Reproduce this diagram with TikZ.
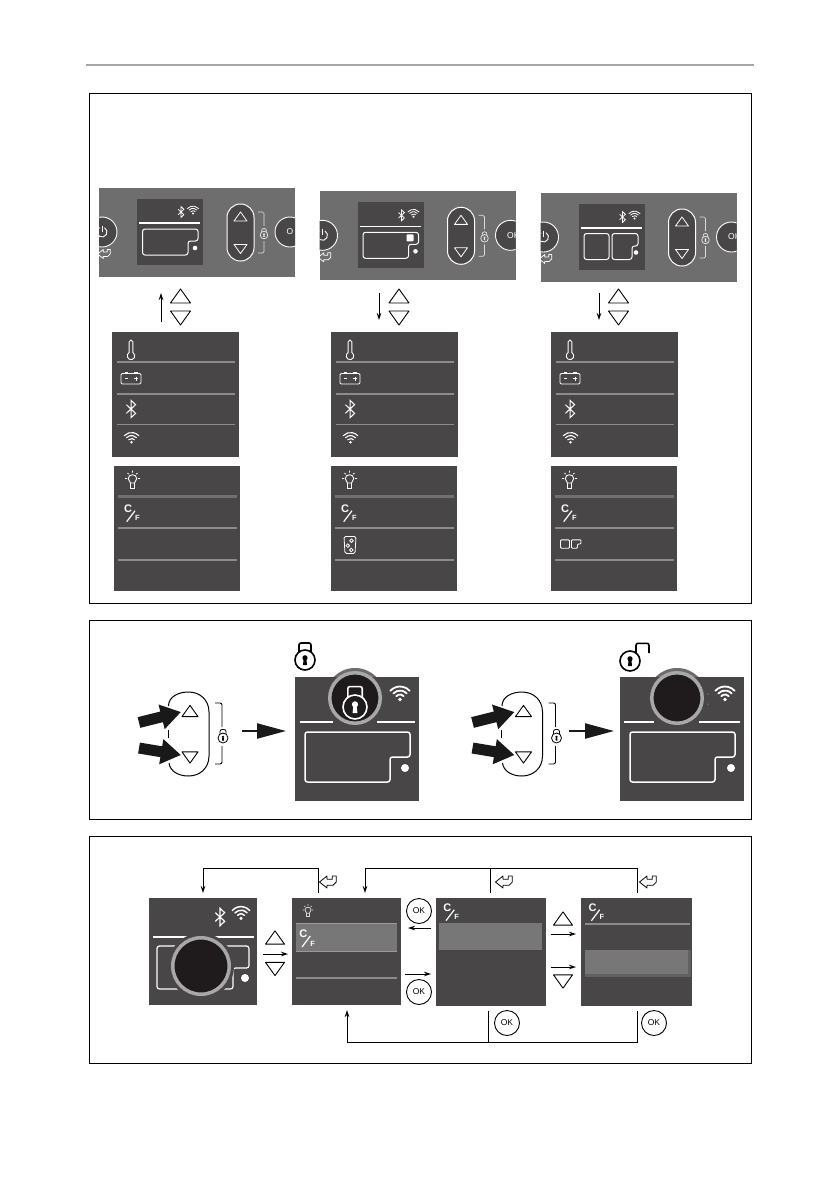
\documentclass[tikz,border=0pt]{standalone}
\usepackage{fontspec}
\setmainfont{Liberation Sans}
\usetikzlibrary{arrows.meta}
\definecolor{scrcol}{HTML}{484647}
\definecolor{bgcol}{HTML}{6F6E6F}
\definecolor{mlinecol}{HTML}{8C8C8C}
\definecolor{hlcol}{HTML}{787778}
\definecolor{dialcol}{HTML}{1F1B1C}
\definecolor{ringcol}{HTML}{A8A8A8}
\newcommand\rectnode[6]{\node[#1,minimum width={(#4-#2)*1pt},minimum height={(#5-#3)*1pt}] (#6) at ({(#2+#4)/2},{(#3+#5)/2}) {};}
\newcommand\notchbox[7][]{\draw[boxline,#1] (#2,#3) -- (#4,#3) -- (#4,#7) -- (#6,#7) -- (#6,#5) -- (#2,#5) -- cycle;}
\tikzset{
  plainrect/.style={inner sep=0pt,outer sep=0pt,rectangle},
  framebox/.style={plainrect,draw=black,line width=.8pt},
  scr/.style={plainrect,fill=scrcol},
  panelbg/.style={plainrect,fill=bgcol},
  hl/.style={plainrect,fill=hlcol},
  hlsoft/.style={plainrect,fill=hlcol!55!scrcol},
  boxline/.style={draw=white,line width=1pt,rounded corners=2.5pt},
  thinarrow/.style={draw=black,line width=.9pt,-{Stealth[length=7pt,width=4.5pt]}},
  wire/.style={draw=black,line width=.9pt},
  fatarrow/.style={draw=black!90,line width=11pt,-{Triangle[length=20pt,width=24pt]}},
  medarrow/.style={draw=black!90,line width=2.2pt,-{Triangle[length=29pt,width=15pt]}},
  okbtn/.style={circle,draw=black,fill=white,line width=.9pt,minimum size=25pt,inner sep=0pt,font=\fontsize{8.5}{9}\selectfont},
  ctlbtn/.style={circle,draw=white,fill=scrcol,line width=.9pt,minimum size=30pt,inner sep=0pt,outer sep=0pt},
  pillshape/.style={plainrect,draw=white,fill=scrcol,line width=1pt,rounded corners=13.4pt},
  dial/.style={circle,fill=dialcol,draw=ringcol,line width=3.5pt,inner sep=0pt,outer sep=0pt},
  mline/.style={draw=mlinecol,line width=1.6pt},
  mlinefat/.style={draw=mlinecol,line width=2.8pt},
  mlinedim/.style={draw=mlinecol!60!scrcol,line width=2.6pt},
  wifiicon/.pic={
    \fill (0,7) circle[radius=1.9];
    \foreach \rr in {5,9,13}
      \draw[line cap=round] ({\rr*cos(222)},{7+\rr*sin(222)}) arc[start angle=222,end angle=318,radius=\rr];
  },
  bticon/.pic={\draw[line join=miter] (-3.2,-3) -- (3.2,3) -- (0,6) -- (0,-6) -- (3.2,-3) -- (-3.2,3);},
  thermoicon/.pic={
    \draw (-1.9,2.6) -- (-1.9,-8) arc[start angle=180,end angle=360,radius=1.9] -- (1.9,2.6)
      arc[start angle=-60,end angle=240,radius=3.8] -- cycle;
  },
  batticon/.pic={
    \draw[rounded corners=1.2pt] (-10,-4.5) rectangle (10,6);
    \draw (-6.5,-5.2) -- (-3,-5.2) (3,-5.2) -- (6.5,-5.2);
    \draw (-6,.5) -- (-3,.5) (3,.5) -- (7,.5) (5,-1.5) -- (5,2.5);
  },
  bulbicon/.pic={
    \draw (-2,3) .. controls (-2,1.5) and (-4.2,.8) .. (-4.2,-1.5) .. controls (-4.2,-6.5) and (4.2,-6.5) .. (4.2,-1.5) .. controls (4.2,.8) and (2,1.5) .. (2,3) -- cycle;
    \draw (-2,3) -- (-2,8) -- (2,8) -- (2,3);
    \draw (-7.5,-1.5) -- (-5.5,-1.5) (7.5,-1.5) -- (5.5,-1.5) (0,-9.5) -- (0,-7.5)
      (-5,-7) -- (-3.8,-5.8) (5,-7) -- (3.8,-5.8);
  },
  cficon/.pic={
    \node[white,inner sep=0pt,font=\fontsize{11}{12}\selectfont\bfseries] (cfc) at (-5,-4.3) {C};
    \draw[white,line width=1.2pt] (2,-2.3) -- (-6.3,8.7);
    \node[white,inner sep=0pt,font=\fontsize{7.5}{8}\selectfont\bfseries] (cff) at (4.3,5.3) {F};
  },
  iceicon/.pic={
    \draw[rounded corners=1.5pt] (-6,-8.5) -- (6,-8.5) -- (5,8.5) -- (-5,8.5) -- cycle;
    \draw (1.5,-4.3) circle[radius=1.8] (-2.2,.6) circle[radius=1.8] (1.3,5) circle[radius=1.8];
  },
  twoboxicon/.pic={
    \draw[rounded corners=1pt] (-10,-4.2) rectangle (-1,4.2);
    \draw[rounded corners=1pt] (1,-4.2) -- (10.5,-4.2) -- (10.5,0) -- (7,0) -- (7,4.2) -- (1,4.2) -- cycle;
  },
  lockicon/.pic={
    \draw (0,0) circle[radius=10];
    \draw[rounded corners=2pt] (-6,-8) -- (-6,-17) -- (6,-17) -- (6,-8);
    \fill (0,-2.2) circle[radius=2.6];
    \fill (-1.4,-1) -- (1.4,-1) -- (2,5) -- (-2,5) -- cycle;
  },
  unlockicon/.pic={
    \draw (0,0) circle[radius=10];
    \draw[rounded corners=2pt] (6,-8) -- (6,-17.7) -- (19,-17.7) -- (19,-8);
    \fill (0,-2.2) circle[radius=2.6];
    \fill (-1.4,-1) -- (1.4,-1) -- (2,5) -- (-2,5) -- cycle;
  },
  returnicon/.pic={
    \draw[line join=round] (-8.5,0) -- (-1,-6) -- (-1,-2.7) -- (4.3,-2.7) -- (4.3,-6) -- (8.3,-6) -- (8.3,0) -- (5,3.3) -- (-1,3.3) -- (-1,6) -- cycle;
  },
  triup/.pic={\draw[line join=round] (-10,7) -- (0,-7) -- (10,7) -- cycle;},
  tridown/.pic={\draw[line join=round] (-10,-7) -- (0,7) -- (10,-7) -- cycle;},
  sidepill/.pic={
    \draw[line width=1pt] (168.5,706) .. controls (168.5,697) and (178,692) .. (188.5,692) .. controls (200,692) and (209,700) .. (209,712) -- (209,756) .. controls (209,768) and (200,776) .. (188.5,776) .. controls (178,776) and (170,771) .. (169,763);
    \draw[line width=1pt] (168,730) -- (168,738);
    \draw[line width=.9pt,rounded corners=2pt] (215,703) -- (222,703) -- (222,727);
    \draw[line width=.9pt,rounded corners=2pt] (222,746) -- (222,764) -- (215,764);
  },
}
% control strip: name, dx, dy, text of the right button, screen content
\newcommand\ctlpanel[5]{%
\begin{scope}[shift={(#2,#3)}]
  \rectnode{panelbg}{99}{188}{295}{277}{#1}
  \begin{scope}
    \clip (#1.south west) rectangle (#1.north east);
    \node[ctlbtn] (#1pw) at (102,232) {};
    \draw[white,line width=.9pt] (104.5,227.7) arc[start angle=-60,end angle=240,radius=5];
    \draw[white,line width=.9pt] (102,225.5) -- (102,232);
    \pic[white,line width=.7pt,scale=.75] at (104,254) {returnicon};
    \node[ctlbtn,text=white,font=\fontsize{8.5}{9}\selectfont] (#1ok) at (290,232) {};
    \node[white,inner sep=0pt,font=\fontsize{8.5}{9}\selectfont,anchor=west] (#1okt) at (286.5,232) {#4};
  \end{scope}
  \rectnode{scr}{137}{199}{203}{265}{#1scr}
  \draw[white,line width=1.2pt] (139,223) -- (200,223);
  \pic[white,line width=.8pt,scale=.9] at (181,212) {bticon};
  \pic[white,line width=.8pt,scale=.57] at (193,209.5) {wifiicon};
  #5
  \node[pillshape,minimum width=27pt,minimum height=57pt] (#1pill) at (240.5,232.5) {};
  \pic[white,line width=.8pt,scale=.65] at (240.5,216.5) {triup};
  \pic[white,line width=.8pt,scale=.65] at (240.5,249) {tridown};
  \draw[white!75!bgcol,line width=.7pt,rounded corners=1.5pt] (258,212) -- (264,212) -- (264,226);
  \draw[white!75!bgcol,line width=.7pt,rounded corners=1.5pt] (264,241) -- (264,253) -- (258,253);
  \pic[white!85!bgcol,line width=.7pt,scale=.38] at (264,235) {lockicon};
\end{scope}}
% two menu blocks
\newcommand\menutop[2]{%
\begin{scope}[shift={(#2,0)}]
  \rectnode{scr}{112}{332}{239}{457}{#1}
  \draw[mlinefat] (117,362) -- (235,362);
  \draw[mline] (117,394) -- (235,394);
  \draw[mline] (117,424.5) -- (235,424.5);
  \pic[white,line width=.9pt] at (131,350) {thermoicon};
  \pic[white,line width=.9pt] at (131,378) {batticon};
  \pic[white,line width=1pt,scale=1.45] at (131,409) {bticon};
  \pic[white,line width=1.1pt,scale=.75] at (131.5,437) {wifiicon};
\end{scope}}
\newcommand\menubot[3]{%
\begin{scope}[shift={(#2,0)}]
  \rectnode{scr}{114}{466}{240}{591}{#1}
  \draw[mlinedim] (118,496.5) -- (237,496.5);
  \draw[mline] (118,528) -- (237,528);
  \draw[mline] (118,560) -- (237,560);
  \pic[white,line width=.9pt] at (132.5,480) {bulbicon};
  \pic at (133,513) {cficon};
  #3
\end{scope}}
\begin{document}
\begin{tikzpicture}[x=1pt,y=-1pt]
\useasboundingbox (0,0) rectangle (840,1192);
\fill[white] (0,0) rectangle (840,1192);
\coordinate (hl) at (86,65);
\coordinate (hr) at (754,65);
\draw[draw=black!35,line width=2pt] (hl) -- (hr);
\rectnode{framebox}{89}{93}{751}{603}{fA}
\rectnode{framebox}{89}{620}{751}{819}{fB}
\rectnode{framebox}{89}{836}{751}{1063}{fC}

% --- section 1
\ctlpanel{pa}{0}{0}{O}{\notchbox{142.5}{229}{198}{255}{188}{241}
  \fill[white] (195,248) circle[radius=2.3];}
\ctlpanel{pb}{220.5}{3.3}{OK}{\notchbox{142.5}{229}{198}{255}{188}{241}
  \fill[white,rounded corners=.8pt] (186,231) rectangle (193,238);
  \fill[white] (195,248) circle[radius=2.3];}
\ctlpanel{pc}{441.5}{5}{OK}{\draw[boxline] (142.5,228.5) rectangle (167.5,254.5);
  \notchbox{170.5}{228.5}{196.5}{254.5}{190.5}{241}
  \fill[white] (194.5,247.5) circle[radius=2.3];}

\coordinate (ua) at (161,322);
\coordinate (ub) at (161,293);
\draw[thinarrow] (ua) -- (ub);
\pic[black,line width=.9pt] at (180.5,296) {triup};
\pic[black,line width=.9pt] at (180.5,318) {tridown};
\coordinate (da) at (379,293);
\coordinate (db) at (379,320);
\draw[thinarrow] (da) -- (db);
\pic[black,line width=.9pt] at (399,296) {triup};
\pic[black,line width=.9pt] at (399,318) {tridown};
\coordinate (dc) at (599,293);
\coordinate (dd) at (599,320);
\draw[thinarrow] (dc) -- (dd);
\pic[black,line width=.9pt] at (618.5,296) {triup};
\pic[black,line width=.9pt] at (618.5,318) {tridown};

\menutop{ma}{0}
\menutop{mb}{219}
\menutop{mc}{439}
\menubot{na}{0}{}
\menubot{nb}{217}{\pic[white,line width=.8pt] at (133,545) {iceicon};}
\menubot{nc}{437}{\pic[white,line width=.9pt] at (133.5,544) {twoboxicon};}

% --- section 2
\pic[black] at (0,0) {sidepill};
\pic[black,line width=.9pt,scale=.8] at (190,711) {triup};
\pic[black,line width=.9pt,scale=.8] at (190,757.5) {tridown};
\pic[black,line width=.8pt,scale=.5] at (223,738) {lockicon};
\coordinate (a1) at (139,722.5);
\coordinate (a2) at (181,712);
\coordinate (a3) at (139,748);
\coordinate (a4) at (181,755);
\draw[fatarrow] (a1) -- (a2);
\draw[fatarrow] (a3) -- (a4);
\coordinate (a5) at (242,731);
\coordinate (a6) at (286,731);
\draw[medarrow] (a5) -- (a6);
\pic[black,line width=1.6pt] at (305,660) {lockicon};
\fill[scrcol!80!white] (355,698) circle[radius=30];
\rectnode{scr}{295}{677}{419}{801}{sl}
\draw[white,line width=1.3pt] (300,722) -- (333,722);
\draw[white,line width=1.3pt] (377,722) -- (415,722);
\node[dial,minimum size=50.5pt] (dl) at (355,698) {};
\pic[white,line width=1.6pt,scale=1.2] at (355,707) {lockicon};
\pic[white,line width=1.8pt] at (400,692.5) {wifiicon};
\notchbox[line width=1.5pt]{305}{732}{410}{782}{390}{757}
\fill[white] (405,768) circle[radius=4];

\begin{scope}[shift={(333.5,0)}]
\pic[black] at (0,0) {sidepill};
\pic[black,line width=.9pt,scale=.8] at (190,711) {triup};
\pic[black,line width=.9pt,scale=.8] at (190,757.5) {tridown};
\pic[black,line width=.8pt,scale=.5] at (223,738) {lockicon};
\coordinate (b1) at (139,722.5);
\coordinate (b2) at (181,712);
\coordinate (b3) at (139,748);
\coordinate (b4) at (181,755);
\draw[fatarrow] (b1) -- (b2);
\draw[fatarrow] (b3) -- (b4);
\end{scope}
\coordinate (b5) at (569,731);
\coordinate (b6) at (614,731);
\draw[medarrow] (b5) -- (b6);
\pic[black,line width=1.6pt] at (630,661) {unlockicon};
\fill[scrcol!80!white] (677,698) circle[radius=30];
\rectnode{scr}{620}{677}{744}{801}{su}
\draw[white,line width=1.3pt] (624,722) -- (654,722);
\draw[white,line width=1.3pt] (699,722) -- (740,722);
\node[dial,minimum size=50.5pt] (du) at (677,698) {};
\fill[white!70!scrcol] (708,694) circle[radius=.5] (708,704) circle[radius=.5];
\pic[white,line width=1.8pt] at (725,692.5) {wifiicon};
\notchbox[line width=1.5pt]{630}{732}{735}{782}{715}{757}
\fill[white] (731,768) circle[radius=4];

% --- section 3
\rectnode{scr}{149}{898}{257}{1005}{sA}
\pic[white,line width=1.2pt,scale=1.45] at (220,917) {bticon};
\pic[white,line width=1.5pt,scale=.9] at (241,912) {wifiicon};
\draw[white,line width=1.2pt] (153,937) -- (254,937);
\notchbox[line width=1.2pt]{157}{946}{249}{989}{233}{968}
\fill[white] (245,978) circle[radius=4];
\fill[scrcol] (201,966) circle[radius=33];
\node[dial,minimum size=56.5pt] (dA) at (201,966) {};

\pic[black,line width=.9pt,scale=.95] at (275,937.5) {triup};
\pic[black,line width=.9pt,scale=.95] at (275,969) {tridown};
\coordinate (c1) at (263,954);
\coordinate (c2) at (288,954);
\draw[thinarrow] (c1) -- (c2);

\rectnode{scr}{292}{898}{401}{1005}{sB}
\pic[white!80!scrcol,line width=.8pt,scale=.72] at (308,911) {bulbicon};
\rectnode{hl}{296}{923}{397}{952}{hB}
\draw[white!65!scrcol,line width=1.2pt,opacity=.5] (296,923.5) -- (397,923.5) (296,951.5) -- (397,951.5);
\pic at (308.3,938.3) {cficon};
\draw[mline] (296,978) -- (397,978);

\node[okbtn] (ok1) at (419,911) {OK};
\node[okbtn] (ok2) at (419,992) {OK};
\coordinate (c3) at (431,928);
\coordinate (c4) at (408,928);
\draw[thinarrow] (c3) -- (c4);
\coordinate (c5) at (405,974);
\coordinate (c6) at (431,974);
\draw[thinarrow] (c5) -- (c6);

\rectnode{scr}{436}{898}{546}{1006}{sC}
\pic at (452.3,912) {cficon};
\rectnode{hl}{439}{923}{542}{950}{hC}

\pic[black,line width=.9pt,scale=.95] at (563,918.5) {triup};
\pic[black,line width=.9pt,scale=.95] at (563,981.5) {tridown};
\coordinate (c7) at (551,934);
\coordinate (c8) at (576,934);
\draw[thinarrow] (c7) -- (c8);
\coordinate (c9) at (551,967);
\coordinate (c10) at (576,967);
\draw[thinarrow] (c9) -- (c10);

\rectnode{scr}{581}{898}{692}{1006}{sD}
\pic at (597.7,912) {cficon};
\draw[mline] (585,924) -- (690,924);
\rectnode{hlsoft}{585}{950}{691}{977}{hDs}
\rectnode{hl}{585}{950}{688}{974}{hD}

% connectors
\coordinate (t1a) at (318,893);
\coordinate (t1b) at (318,868);
\coordinate (t1c) at (203,868);
\coordinate (t1d) at (203,893);
\draw[thinarrow] (t1a) -- (t1b) -- (t1c) -- (t1d);
\coordinate (t2a) at (637,893);
\coordinate (t2b) at (637,868);
\coordinate (t2c) at (365,868);
\coordinate (t2d) at (365,893);
\draw[thinarrow] (t2a) -- (t2b) -- (t2c) -- (t2d);
\coordinate (t3a) at (490,893);
\coordinate (t3b) at (490,868);
\draw[wire] (t3a) -- (t3b);
\coordinate (u1a) at (637,1011);
\coordinate (u1b) at (637,1042);
\coordinate (u1c) at (347,1042);
\coordinate (u1d) at (347,1010);
\draw[thinarrow] (u1a) -- (u1b) -- (u1c) -- (u1d);
\coordinate (u2a) at (488,1011);
\coordinate (u2b) at (488,1042);
\draw[wire] (u2a) -- (u2b);

\pic[black,line width=.8pt] at (328,882) {returnicon};
\pic[black,line width=.8pt] at (504,882) {returnicon};
\pic[black,line width=.8pt] at (648,882) {returnicon};
\node[okbtn] (ok3) at (507,1023) {OK};
\node[okbtn] (ok4) at (654,1023) {OK};
\end{tikzpicture}
\end{document}
